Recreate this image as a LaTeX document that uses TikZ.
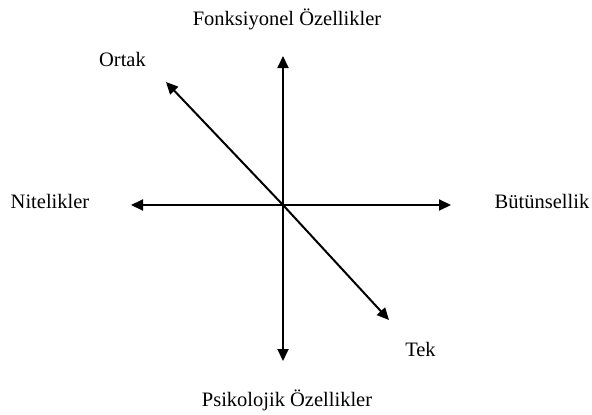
\documentclass[tikz,border=0pt]{standalone}
\usepackage{fontspec}
\setmainfont{Liberation Serif}
\usetikzlibrary{arrows.meta}
\begin{document}
\begin{tikzpicture}[x=1pt,y=-1pt,
  axis/.style={line width=2pt,-{Triangle[length=12pt,width=11pt]}},
  lbl/.style={font=\fontsize{20.5}{24}\selectfont,inner sep=0pt,anchor=base}]
\useasboundingbox (0,0) rectangle (592,415);
\coordinate (o) at (283,205);
\coordinate (up) at (283,56);
\coordinate (dn) at (283,361);
\coordinate (lf) at (131,205);
\coordinate (rt) at (451,205);
\coordinate (ul) at (166,82);
\coordinate (dr) at (389,320);
\draw[axis] (o) -- (up);
\draw[axis] (o) -- (dn);
\draw[axis] (o) -- (lf);
\draw[axis] (o) -- (rt);
\draw[axis] (o) -- (ul);
\draw[axis] (o) -- (dr);
\node[lbl] (f) at (287,25) {Fonksiyonel Özellikler};
\node[lbl] (p) at (287,406) {Psikolojik Özellikler};
\node[lbl] (n) at (50,208) {Nitelikler};
\node[lbl] (b) at (542,208) {Bütünsellik};
\node[lbl] (or) at (122.5,66) {Ortak};
\node[lbl] (t) at (420.5,356) {Tek};
\end{tikzpicture}
\end{document}
